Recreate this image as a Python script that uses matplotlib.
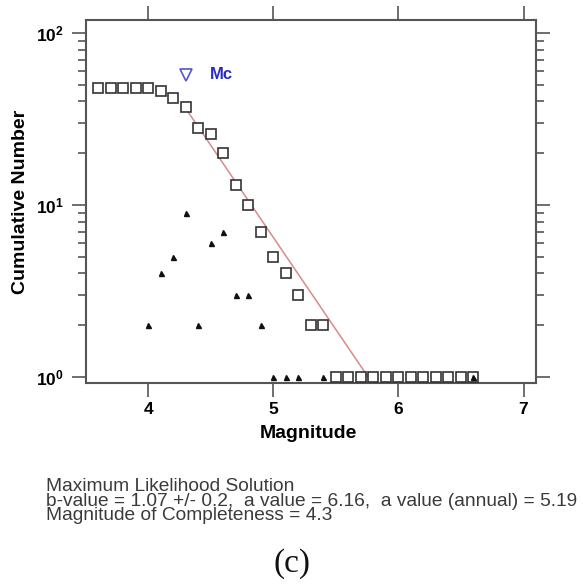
import matplotlib
matplotlib.use('Agg')
import matplotlib.pyplot as plt
import numpy as np
from matplotlib.ticker import FixedLocator, FuncFormatter, LogLocator, NullFormatter

plt.rcParams['font.family'] = ['Liberation Sans', 'DejaVu Sans']
plt.rcParams['mathtext.fontset'] = 'custom'
plt.rcParams['mathtext.rm'] = 'Liberation Sans:bold'
plt.rcParams['mathtext.bf'] = 'Liberation Sans:bold'

# ---- data ----
cum_mags = [3.6, 3.7, 3.8, 3.9, 4.0, 4.1, 4.2, 4.3, 4.4, 4.5, 4.6, 4.7, 4.8, 4.9,
            5.0, 5.1, 5.2, 5.3, 5.4, 5.5, 5.6, 5.7, 5.8, 5.9, 6.0, 6.1, 6.2, 6.3,
            6.4, 6.5, 6.6]
cum_counts = [48, 48, 48, 48, 48, 46, 42, 37, 28, 26, 20, 13, 10, 7,
              5, 4, 3, 2, 2, 1, 1, 1, 1, 1, 1, 1, 1, 1,
              1, 1, 1]
nc_mags = [4.0, 4.1, 4.2, 4.3, 4.4, 4.5, 4.6, 4.7, 4.8, 4.9, 5.0, 5.1, 5.2, 5.4, 6.6]
nc_counts = [2, 4, 5, 9, 2, 6, 7, 3, 3, 2, 1, 1, 1, 1, 1]
a_value = 6.16
b_value = 1.07
mc = 4.3
mc_marker_y = 57
fit_mags = [4.3, 6.6]
xticks = [4, 5, 6, 7]
info_lines = ["Maximum Likelihood Solution",
              "b-value = 1.07 +/- 0.2,  a value = 6.16,  a value (annual) = 5.19",
              "Magnitude of Completeness = 4.3"]

# ---- figure ----
W, H = 583, 585
fig = plt.figure(figsize=(W / 100, H / 100), dpi=100)
ax = fig.add_axes([86 / W, 1 - 383 / H, 450 / W, 363 / H])

spine_col = '#555555'
ax.set_yscale('log')
ax.set_xlim(3.5, 7.1)
ax.set_ylim(0.923, 119)

fit_x = np.array(fit_mags)
fit_y = 10 ** (a_value - b_value * fit_x)
ax.plot(fit_x, fit_y, color='#d98a8a', lw=1.1, zorder=2)

ax.plot(cum_mags, cum_counts, linestyle='none', marker='s', markersize=7.8,
        markerfacecolor='white', markeredgecolor='#333333', markeredgewidth=1.2, zorder=3)
ax.plot(nc_mags, nc_counts, linestyle='none', marker='^', markersize=3.6,
        color='#111111', zorder=4)
ax.plot([mc], [mc_marker_y], linestyle='none', marker='v', markersize=8,
        markerfacecolor='none', markeredgecolor='#5555cc', markeredgewidth=1.2)
ax.text(4.49, mc_marker_y, 'Mc', color='#2a2ac8', fontsize=12, fontweight='bold',
        va='center', ha='left')

for s in ax.spines.values():
    s.set_color(spine_col)
    s.set_linewidth(1.5)

ax.xaxis.set_major_locator(FixedLocator(xticks))
ax.xaxis.set_major_formatter(FuncFormatter(lambda v, p: '%d' % v))
ax.yaxis.set_major_locator(LogLocator(base=10, numticks=10))
ax.yaxis.set_minor_locator(LogLocator(base=10, subs=np.arange(2, 10), numticks=10))
ax.yaxis.set_minor_formatter(NullFormatter())
ax.yaxis.set_major_formatter(FuncFormatter(
    lambda v, p: r'$\mathbf{10^{%d}}$' % int(round(np.log10(v)))))

ax.tick_params(which='both', direction='out', top=True, right=True,
               color=spine_col, width=1.2)
ax.tick_params(which='major', length=10, labelsize=12.5, pad=4)
ax.tick_params(which='minor', length=6)
ax.tick_params(axis='y', which='major', pad=6)
for lab in ax.get_xticklabels():
    lab.set_fontweight('bold')

ax.set_xlabel('Magnitude', fontsize=14, fontweight='bold')
ax.set_ylabel('Cumulative Number', fontsize=14, fontweight='bold')
ax.xaxis.set_label_coords((308 - 86) / 450, (383 - 433) / 363)
ax.xaxis.label.set_va('center')
ax.yaxis.set_label_coords((21 - 86) / 450, (383 - 202) / 363)
ax.yaxis.label.set_va('center')

fig.text(46 / W, 1 - 501 / H, "\n".join(info_lines), fontsize=13.8, color='#3a3a3a',
         ha='left', va='center', linespacing=0.78)

fig.text(292 / W, 1 - 564 / H, '(c)', fontsize=24, family='Liberation Serif',
         ha='center', va='center', color='#111111')

fig.savefig('out.png', dpi=100)
